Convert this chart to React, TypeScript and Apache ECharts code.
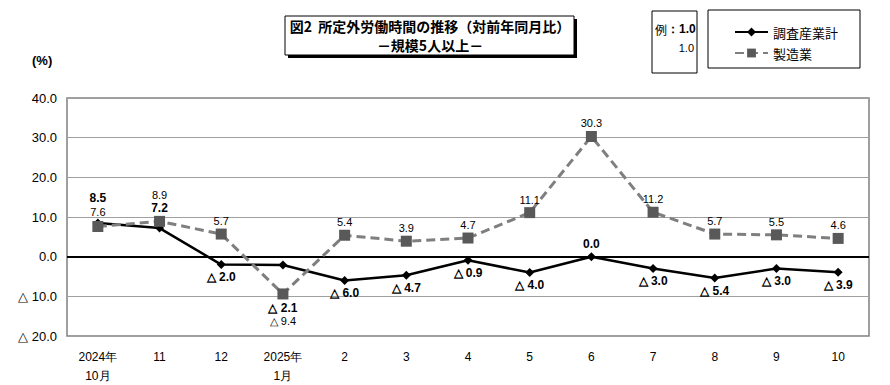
import React, { useEffect, useRef } from "react";
import * as echarts from "echarts";

const categories = ["2024年\n10月", "11", "12", "2025年\n1月", "2", "3", "4", "5", "6", "7", "8", "9", "10"];
const totalValues = [8.5, 7.2, -2.0, -2.1, -6.0, -4.7, -0.9, -4.0, 0.0, -3.0, -5.4, -3.0, -3.9];
const mfgValues = [7.6, 8.9, 5.7, -9.4, 5.4, 3.9, 4.7, 11.1, 30.3, 11.2, 5.7, 5.5, 4.6];
const seriesNames = ["調査産業計", "製造業"];
const yMin = -20;
const yMax = 40;
const yInterval = 10;

const NARROW = "'Liberation Sans', Arial, sans-serif";
const JP = "'Noto Sans CJK JP', sans-serif";

const fmt = (v: number) => (v < 0 ? "△ " + Math.abs(v).toFixed(1) : v.toFixed(1));

// label placement tweaks (position / distance) per point
const totalLabelPos: Record<number, { position: string; distance: number }> = {
  0: { position: "top", distance: 14 },
  1: { position: "top", distance: 10 },
  3: { position: "bottom", distance: 33 },
};
const mfgLabelPos: Record<number, { position: string; distance: number }> = {
  0: { position: "top", distance: 4 },
  1: { position: "top", distance: 15 },
  3: { position: "bottom", distance: 16 },
};

export default function App() {
  const ref = useRef<HTMLDivElement>(null);
  useEffect(() => {
    if (!ref.current) return;
    const chart = echarts.init(ref.current, undefined, { renderer: "svg" });
    const totalData = totalValues.map((v, i) => {
      const p = totalLabelPos[i] || { position: v >= 0 ? "top" : "bottom", distance: 2 };
      return { value: v, label: { position: p.position, distance: p.distance } };
    });
    const mfgData = mfgValues.map((v, i) => {
      const p = mfgLabelPos[i] || { position: v >= 0 ? "top" : "bottom", distance: 2 };
      return { value: v, label: { position: p.position, distance: p.distance } };
    });
    chart.setOption({
      animation: false,
      backgroundColor: "#fff",
      grid: {
        left: 67,
        top: 98,
        width: 802,
        height: 241,
        show: true,
        borderColor: "#808080",
        borderWidth: 1.5,
        containLabel: false,
      },
      legend: {
        orient: "vertical",
        left: 729,
        top: 19,
        itemWidth: 33,
        itemHeight: 11,
        itemGap: 5,
        textStyle: { fontFamily: JP, fontSize: 13, lineHeight: 16, color: "#000" },
        data: seriesNames,
      },
      xAxis: {
        type: "category",
        data: categories,
        boundaryGap: true,
        axisLine: { show: false },
        axisTick: { show: false },
        axisLabel: {
          fontFamily: NARROW,
          fontSize: 12,
          color: "#000",
          margin: 11,
          lineHeight: 19,
          interval: 0,
        },
        splitLine: { show: false },
      },
      yAxis: {
        type: "value",
        min: yMin,
        max: yMax,
        interval: yInterval,
        axisLine: { show: false },
        axisTick: { show: false },
        axisLabel: {
          formatter: (v: number) => fmt(v),
          fontFamily: "'Liberation Sans', Arial, sans-serif",
          fontSize: 13,
          color: "#000",
          margin: 10,
        },
        splitLine: { lineStyle: { color: "#a0a0a0", width: 1.2 } },
      },
      series: [
        {
          name: seriesNames[0],
          type: "line",
          data: totalData,
          symbol: "diamond",
          symbolSize: 9,
          itemStyle: { color: "#000" },
          lineStyle: { color: "#000", width: 2.5 },
          z: 3,
          label: {
            show: true,
            formatter: (p: any) => fmt(p.value),
            fontFamily: NARROW,
            fontWeight: "bold",
            fontSize: 12,
            color: "#000",
          },
          markLine: {
            silent: true,
            symbol: "none",
            label: { show: false },
            lineStyle: { color: "#000", width: 2, type: "solid" },
            data: [{ yAxis: 0 }],
            z: 1,
          },
        },
        {
          name: seriesNames[1],
          type: "line",
          data: mfgData,
          symbol: "rect",
          symbolSize: 11,
          itemStyle: { color: "#595959" },
          lineStyle: { color: "#7f7f7f", width: 3, type: [9, 5] },
          z: 4,
          label: {
            show: true,
            formatter: (p: any) => fmt(p.value),
            fontFamily: NARROW,
            fontSize: 11,
            color: "#000",
          },
        },
      ],
      graphic: [
        { type: "rect", shape: { x: 288, y: 19, width: 289, height: 39 }, style: { fill: "#000" }, z: 10 },
        { type: "rect", shape: { x: 285, y: 16, width: 289, height: 39 }, style: { fill: "#fff", stroke: "#000", lineWidth: 1 }, z: 11 },
        {
          type: "text",
          x: 430,
          y: 26,
          z: 12,
          style: {
            text: "図2  所定外労働時間の推移（対前年同月比）",
            fontFamily: JP,
            fontSize: 14,
            lineHeight: 15,
            fontWeight: "bold",
            fill: "#000",
            align: "center",
            verticalAlign: "middle",
          },
        },
        {
          type: "text",
          x: 430,
          y: 45,
          z: 12,
          style: {
            text: "－規模5人以上－",
            fontFamily: JP,
            fontSize: 14,
            lineHeight: 15,
            fontWeight: "bold",
            fill: "#000",
            align: "center",
            verticalAlign: "middle",
          },
        },
        { type: "rect", shape: { x: 652, y: 11, width: 45, height: 62 }, style: { fill: "none", stroke: "#000", lineWidth: 1 } },
        {
          type: "text",
          x: 655,
          y: 29,
          style: {
            text: "{a|例}{b|：1.0}",
            rich: {
              a: { fontFamily: JP, fontSize: 12, fill: "#000" },
              b: { fontFamily: "'Liberation Sans', sans-serif", fontSize: 12, fontWeight: "bold", fill: "#000" },
            },
            verticalAlign: "middle",
          },
        },
        {
          type: "text",
          x: 694,
          y: 48,
          style: { text: "1.0", fontFamily: "'Liberation Sans', sans-serif", fontSize: 11, fill: "#000", align: "right", verticalAlign: "middle" },
        },
        { type: "rect", shape: { x: 708, y: 10, width: 152, height: 58 }, style: { fill: "none", stroke: "#000", lineWidth: 1 } },
        {
          type: "text",
          x: 32,
          y: 60,
          style: { text: "(%)", fontFamily: "'Liberation Sans', sans-serif", fontSize: 13, fontWeight: "bold", fill: "#000", verticalAlign: "middle" },
        },
      ],
    });
    return () => chart.dispose();
  }, []);
  return <div ref={ref} style={{ position: "fixed", left: 0, top: 0, width: 890, height: 385 }} />;
}
